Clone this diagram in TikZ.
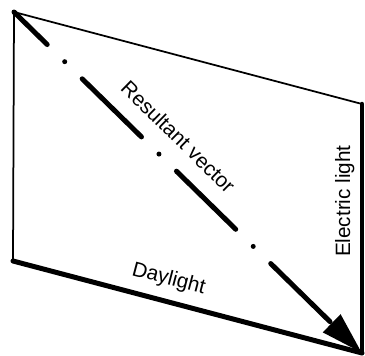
\documentclass[tikz,border=0pt]{standalone}
\usepackage{fontspec}
\setmainfont{Liberation Sans}
\usetikzlibrary{arrows.meta}

\begin{document}
\begin{tikzpicture}[
  x=0.02cm, y=-0.02cm,
  edge/.style={line width=0.035cm, line cap=round},
  heavy/.style={line width=0.09cm, line cap=round},
  lbl/.style={font=\fontsize{11.8}{14}\selectfont, inner sep=2pt},
]
  \useasboundingbox (0,0) rectangle (365,355);
  \coordinate (tl) at (14,12);
  \coordinate (tr) at (362,104);
  \coordinate (bl) at (13,261);
  \coordinate (br) at (362,353);

  % Sides of the box
  \draw[edge] (tl) -- (bl);
  \draw[edge] (tl) -- (tr);
  \draw[heavy] (tr) -- (br)
    node[lbl, pos=0.39, rotate=90, above=1pt] (elec) {Electric light};
  \draw[heavy, line width=0.1cm] (bl) -- (br)
    node[lbl, pos=0.43, sloped, above=3.5pt] (day) {Daylight};

  % Resultant of the two
  \draw[line width=0.1cm, line cap=round,
        dash pattern=on 1.66cm off 0.49cm on 0cm off 0.49cm, dash phase=0.73cm,
        -{Triangle[length=0.85cm, width=0.48cm]}] (tl) -- (br)
    node[lbl, pos=0.42, sloped, above=7pt] (res) {Resultant vector};
\end{tikzpicture}
\end{document}
